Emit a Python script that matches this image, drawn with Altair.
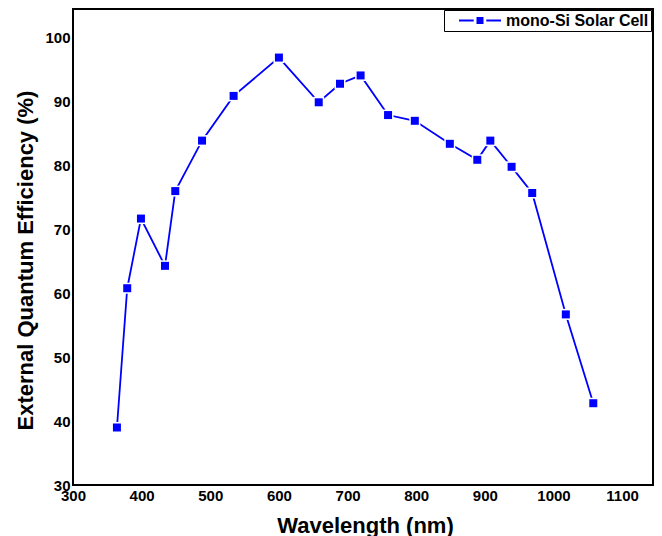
import altair as alt
import pandas as pd

series_name = "mono-Si Solar Cell"
wavelength = [364, 379, 399, 434, 449, 488, 534, 600, 658, 689, 719, 759, 798, 849, 889, 908, 939, 969, 1018, 1058]
eqe = [39.0, 60.8, 71.7, 64.3, 76.0, 83.9, 90.9, 96.9, 89.9, 92.8, 94.1, 87.9, 87.0, 83.4, 80.9, 83.9, 79.8, 75.7, 56.7, 42.8]
x_ticks = [300, 400, 500, 600, 700, 800, 900, 1000, 1100]
y_ticks = [30, 40, 50, 60, 70, 80, 90, 100]

df = pd.DataFrame({"wavelength": wavelength, "eqe": eqe, "series": [series_name] * len(eqe)})

FONT = "Liberation Sans"
BLUE = "#0000ff"

x_enc = alt.X(
    "wavelength:Q",
    scale=alt.Scale(domain=[300, 1145], nice=False, zero=False),
    axis=alt.Axis(
        values=x_ticks, format="d", title="Wavelength (nm)", ticks=False, domain=False, grid=False,
        labelFont=FONT, labelFontWeight="bold", labelFontSize=15, labelColor="black",
        labelPadding=3, labelFlush=False, labelOverlap=False,
        titleFont=FONT, titleFontWeight="bold", titleFontSize=22, titleColor="black",
        titleBaseline="alphabetic", titleY=47, titleX=292,
    ),
)
y_enc = alt.Y(
    "eqe:Q",
    scale=alt.Scale(domain=[30, 104.5], nice=False, zero=False),
    axis=alt.Axis(
        values=y_ticks, format="d", title="External Quantum Efficiency (%)", ticks=False, domain=False, grid=False,
        labelFont=FONT, labelFontWeight="bold", labelFontSize=15, labelColor="black",
        labelPadding=3, labelFlush=False, labelOverlap=False,
        titleFont=FONT, titleFontWeight="bold", titleFontSize=22, titleColor="black",
        titleAngle=270, titleBaseline="alphabetic", titleAlign="center", titleX=-41, titleY=251,
    ),
)

base = alt.Chart(df).encode(x=x_enc, y=y_enc)

line = base.mark_line(color=BLUE, strokeWidth=1.8)
halo = base.mark_point(shape="square", filled=True, size=121, color="white", opacity=1)

legend_symbol = "M-3.0,-0.13H-0.9V0.13H-3.0Z M0.9,-0.13H3.0V0.13H0.9Z M-0.5,-0.5H0.5V0.5H-0.5Z"

points = base.mark_point(shape="square", filled=True, size=64, opacity=1).encode(
    color=alt.Color(
        "series:N",
        scale=alt.Scale(range=[BLUE]),
        legend=alt.Legend(
            title=None, orient="none", legendX=371, legendY=1,
            symbolType=legend_symbol, symbolSize=196, symbolFillColor=BLUE,
            symbolStrokeWidth=0, symbolOffset=25.5, labelOffset=18,
            labelFont=FONT, labelFontWeight="bold", labelFontSize=16, labelColor="black",
            padding=2.5, strokeColor="black", fillColor="white",
        ),
    )
)

chart = alt.layer(line, halo, points).properties(
    width=580, height=476,
    autosize=alt.AutoSizeParams(type="none"),
    padding={"left": 65, "top": 1, "right": 1, "bottom": 51},
    background="white",
).configure_view(stroke="black", strokeWidth=2)

chart.save("out.html", embed_options={"renderer": "svg", "actions": False})
